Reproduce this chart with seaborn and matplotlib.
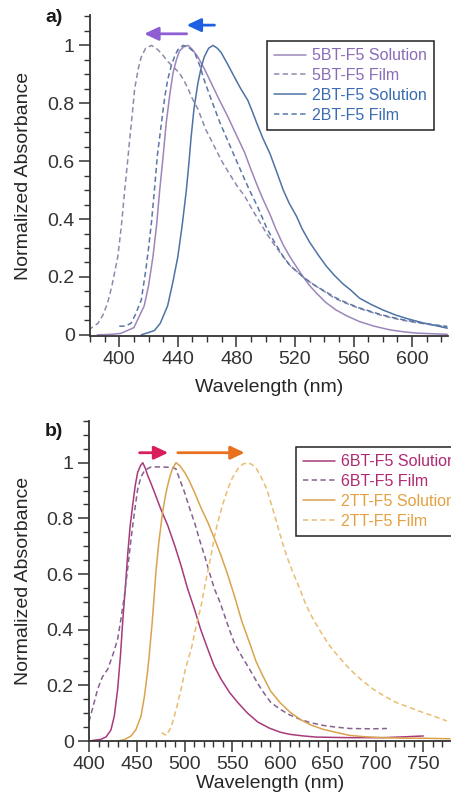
import numpy as np
import pandas as pd
import matplotlib
matplotlib.use("Agg")
import matplotlib.pyplot as plt
from matplotlib.ticker import MultipleLocator, FixedLocator, FixedFormatter
import seaborn as sns

# ==========================================
# DATA
# ==========================================
# panel a
bt5_sol_wl = [385, 395, 401, 410, 417, 420, 423, 425.5, 427.6, 430, 432, 434.5, 436.7, 439, 441, 444,
              447, 450, 453.7, 458, 462.8, 468, 474, 480, 485.6, 490, 494.7, 498, 503, 507, 512, 516.5,
              521, 525.6, 530, 534.7, 541, 548, 556, 564, 574, 585, 595, 603, 613, 624]
bt5_sol_abs = [0.0, 0.002, 0.005, 0.025, 0.10, 0.17, 0.27, 0.38, 0.50, 0.62, 0.73, 0.83, 0.905, 0.95, 0.98, 0.995,
               1.0, 0.985, 0.96, 0.92, 0.87, 0.815, 0.755, 0.69, 0.63, 0.57, 0.51, 0.47, 0.415, 0.365, 0.31, 0.27,
               0.235, 0.20, 0.17, 0.144, 0.112, 0.086, 0.064, 0.046, 0.03, 0.017, 0.01, 0.006, 0.004, 0.002]

bt5_film_wl = [379, 385.5, 389, 392, 395, 399, 401.5, 403.7, 405.5, 407, 409, 410.5, 413, 415, 418, 422,
               426.4, 430, 433, 437, 441, 444, 447, 450, 453.7, 459, 465, 470, 476, 481, 485.6, 490, 494.7,
               500.6, 506, 512, 516.5, 521, 525.6, 530, 534.7, 540, 546, 551, 557.5, 564, 571, 578, 584.8,
               594, 603, 613, 624]
bt5_film_abs = [0.017, 0.04, 0.07, 0.11, 0.17, 0.27, 0.38, 0.50, 0.59, 0.67, 0.77, 0.85, 0.92, 0.96, 0.99, 1.0,
                0.985, 0.965, 0.945, 0.925, 0.905, 0.88, 0.85, 0.815, 0.78, 0.71, 0.65, 0.60, 0.55, 0.51, 0.48,
                0.44, 0.40, 0.35, 0.31, 0.27, 0.24, 0.22, 0.20, 0.183, 0.167, 0.15, 0.13, 0.117, 0.104, 0.091,
                0.08, 0.069, 0.06, 0.05, 0.042, 0.035, 0.028]

bt2_sol_wl = [415, 420, 424, 428, 433, 436.5, 440, 443, 445.8, 447.5, 449, 451, 453.7, 456, 458, 461, 464,
              467, 469.6, 474, 478.7, 483, 487.8, 491, 494, 498, 503, 507, 512, 516, 521, 525, 530, 536,
              541.6, 547, 553, 558, 564, 572, 580, 589, 598, 607, 617, 624]
bt2_sol_abs = [0.0, 0.008, 0.015, 0.04, 0.10, 0.18, 0.27, 0.38, 0.50, 0.59, 0.68, 0.78, 0.87, 0.925, 0.96, 0.99, 1.0,
               0.99, 0.975, 0.935, 0.89, 0.85, 0.81, 0.77, 0.73, 0.68, 0.625, 0.57, 0.50, 0.455, 0.41, 0.365, 0.32,
               0.275, 0.236, 0.205, 0.175, 0.155, 0.127, 0.105, 0.086, 0.068, 0.054, 0.042, 0.031, 0.023]

bt2_film_wl = [400, 404, 408, 411, 415, 418, 420, 422, 424, 426, 428.5, 431, 433, 435.5, 438, 440, 443.5,
               447, 451.5, 455, 458, 463, 469, 475, 481, 488, 494.7, 500.6, 506, 512, 516.5, 521, 525.6, 530,
               534.7, 540, 546, 551, 557.5, 564, 571, 578, 584.8, 594, 603, 613, 624]
bt2_film_abs = [0.03, 0.03, 0.04, 0.07, 0.12, 0.22, 0.30, 0.39, 0.50, 0.62, 0.72, 0.82, 0.88, 0.93, 0.965, 0.985, 1.0,
                0.995, 0.975, 0.93, 0.88, 0.81, 0.73, 0.66, 0.59, 0.51, 0.44, 0.37, 0.32, 0.27, 0.24, 0.22, 0.20,
                0.183, 0.167, 0.152, 0.133, 0.12, 0.106, 0.093, 0.082, 0.071, 0.062, 0.052, 0.044, 0.036, 0.029]

# panel b
bt6_sol_wl = [400, 412.6, 418, 423, 426.5, 430, 433, 435.3, 438, 440.5, 443, 445.8, 448.5, 451, 454, 456.3,
              459, 461.5, 465, 468.5, 475, 482.5, 490, 496.4, 503, 510.4, 517, 524.4, 531, 538.3, 547, 555.8,
              566, 576.8, 589, 600, 610, 625, 638, 655, 673, 690, 708, 730, 750]
bt6_sol_abs = [0.0, 0.006, 0.015, 0.04, 0.09, 0.186, 0.31, 0.43, 0.55, 0.67, 0.77, 0.85, 0.92, 0.966, 0.99, 1.0,
               0.98, 0.954, 0.925, 0.894, 0.835, 0.774, 0.70, 0.63, 0.55, 0.474, 0.40, 0.33, 0.27, 0.222, 0.175,
               0.138, 0.10, 0.068, 0.046, 0.032, 0.024, 0.018, 0.014, 0.013, 0.012, 0.012, 0.012, 0.015, 0.018]

bt6_film_wl = [400, 404, 409, 414, 419.6, 425, 430, 433.5, 437, 440.5, 444, 447.5, 451, 454.5, 458, 462, 465,
               472, 482.5, 488, 491, 495, 500, 505, 510.4, 516, 521, 526, 531.4, 537, 542, 547, 552, 559, 566,
               572, 577, 582, 590, 600, 610, 620.8, 632, 645, 658, 673, 690, 700, 712]
bt6_film_abs = [0.07, 0.12, 0.186, 0.23, 0.258, 0.31, 0.366, 0.44, 0.52, 0.62, 0.726, 0.82, 0.906, 0.95, 0.97, 0.98,
                0.985, 0.985, 0.984, 0.982, 0.978, 0.94, 0.894, 0.84, 0.786, 0.72, 0.666, 0.606, 0.546, 0.50, 0.45,
                0.40, 0.354, 0.31, 0.27, 0.235, 0.205, 0.178, 0.14, 0.114, 0.094, 0.078, 0.066, 0.056, 0.05, 0.045,
                0.044, 0.044, 0.045]

tt2_sol_wl = [430, 437, 444, 449, 454.5, 458, 461, 463, 466, 468, 470, 473, 477, 480.5, 484, 487.5, 491, 495,
              500, 505, 510.4, 517, 524.4, 531, 538.3, 545, 552.4, 560, 568.4, 575, 582, 590, 600, 610, 620.8,
              632, 645, 660, 673, 690, 708, 730, 750, 778]
tt2_sol_abs = [0.0, 0.005, 0.018, 0.04, 0.09, 0.16, 0.24, 0.306, 0.42, 0.51, 0.606, 0.71, 0.822, 0.89, 0.942, 0.98,
               1.0, 0.99, 0.966, 0.935, 0.894, 0.84, 0.786, 0.73, 0.666, 0.60, 0.52, 0.43, 0.35, 0.285, 0.234, 0.18,
               0.138, 0.105, 0.078, 0.058, 0.042, 0.03, 0.02, 0.015, 0.012, 0.01, 0.01, 0.008]

tt2_film_wl = [476, 481, 486, 491, 496.4, 501, 507, 512, 517.4, 522, 527.8, 531, 534.8, 540, 545.3, 550, 555.8,
               561, 566.3, 571, 575.4, 580, 586, 591, 596.4, 601, 606.8, 613, 620.8, 627, 634.7, 643, 652, 662,
               673, 685, 697.6, 710, 722, 736, 750, 762, 774.5]
tt2_film_abs = [0.03, 0.02, 0.05, 0.11, 0.186, 0.26, 0.33, 0.41, 0.486, 0.57, 0.666, 0.73, 0.786, 0.85, 0.906, 0.945,
                0.978, 0.995, 1.0, 0.993, 0.978, 0.95, 0.906, 0.85, 0.786, 0.73, 0.666, 0.61, 0.546, 0.49, 0.438,
                0.39, 0.342, 0.30, 0.258, 0.22, 0.186, 0.16, 0.138, 0.12, 0.102, 0.088, 0.072]

# shift arrows (start nm, end nm)
arrows_a = [(446, 417), (465, 446)]
arrows_b = [(453, 483), (493, 563)]

# ==========================================
# STYLE
# ==========================================
sns.set_style("ticks")
plt.rcParams['font.family'] = ['Liberation Sans', 'DejaVu Sans']
plt.rcParams['axes.edgecolor'] = '#333333'
plt.rcParams['xtick.color'] = '#333333'
plt.rcParams['ytick.color'] = '#333333'
plt.rcParams['text.color'] = '#1a1a1a'

DASH = (0, (3.5, 2.2))
LW = 1.1

series_a = [
    ("5BT-F5 Solution", bt5_sol_wl, bt5_sol_abs, '#9c86bb', '-', '#8a6cb6'),
    ("5BT-F5 Film", bt5_film_wl, bt5_film_abs, '#8f8aac', DASH, '#8a6cb6'),
    ("2BT-F5 Solution", bt2_sol_wl, bt2_sol_abs, '#4d73a6', '-', '#3b6cb2'),
    ("2BT-F5 Film", bt2_film_wl, bt2_film_abs, '#5b76a6', DASH, '#3b6cb2'),
]
series_b = [
    ("6BT-F5 Solution", bt6_sol_wl, bt6_sol_abs, '#a83a7c', '-', '#b02a72'),
    ("6BT-F5 Film", bt6_film_wl, bt6_film_abs, '#86608e', DASH, '#b02a72'),
    ("2TT-F5 Solution", tt2_sol_wl, tt2_sol_abs, '#d9a34e', '-', '#e3a142'),
    ("2TT-F5 Film", tt2_film_wl, tt2_film_abs, '#e9bd70', DASH, '#e3a142'),
]

W, H = 451, 798
fig = plt.figure(figsize=(W / 100, H / 100), dpi=100)


def px_rect(left, top, right, bottom):
    return [left / W, 1 - bottom / H, (right - left) / W, (bottom - top) / H]


def draw_panel(ax, series, xlim, ylim, xmajor, arrows, arrow_y, arrow_colors, legend_anchor):
    for label, wl, ab, color, ls, _ in series:
        df = pd.DataFrame({"wl": wl, "abs": ab})
        sns.lineplot(data=df, x="wl", y="abs", ax=ax, color=color, linestyle=ls,
                     linewidth=LW, label=label, legend=False)
    ax.set_xlim(*xlim)
    ax.set_ylim(*ylim)
    ax.xaxis.set_major_locator(MultipleLocator(xmajor))
    ax.xaxis.set_minor_locator(MultipleLocator(10))
    yt = [0, 0.2, 0.4, 0.6, 0.8, 1.0]
    ax.yaxis.set_major_locator(FixedLocator(yt))
    ax.yaxis.set_major_formatter(FixedFormatter(["0", "0.2", "0.4", "0.6", "0.8", "1"]))
    ax.yaxis.set_minor_locator(MultipleLocator(0.05))
    ax.tick_params(which='major', direction='out', length=8, width=1.1, labelsize=14, pad=3)
    ax.tick_params(which='minor', direction='out', length=4, width=1.0)
    sns.despine(ax=ax)
    for sp in ax.spines.values():
        sp.set_linewidth(1.3)
    ax.set_xlabel("Wavelength (nm)", fontsize=14)
    ax.set_ylabel("Normalized Absorbance", fontsize=14)

    for (x0, x1), c, yy in zip(arrows, arrow_colors, arrow_y):
        ax.annotate('', xy=(x1, yy), xytext=(x0, yy),
                    arrowprops=dict(arrowstyle='-|>,head_length=0.85,head_width=0.4',
                                    color=c, lw=2.0, shrinkA=0, shrinkB=0, mutation_scale=10),
                    annotation_clip=False)

    leg = ax.legend(loc='upper left', bbox_to_anchor=legend_anchor, bbox_transform=fig.transFigure,
                    fontsize=11.5, frameon=True, fancybox=False, framealpha=1, edgecolor='#222222',
                    handlelength=2.0, handletextpad=0.35, labelspacing=0.3, borderpad=0.45,
                    borderaxespad=0)
    leg.get_frame().set_linewidth(1.1)
    for txt, s in zip(leg.get_texts(), series):
        txt.set_color(s[5])
    return ax


# panel a
ax_a = fig.add_axes(px_rect(90, 15, 448, 336))
draw_panel(ax_a, series_a, (380, 624.5), (-0.004, 1.105), 40, arrows_a, [1.04, 1.07],
           ['#8e5ed2', '#1f5fe3'], (267 / W, 1 - 41 / H))
ax_a.yaxis.set_label_coords((23.5 - 90) / 358, 0.5)
ax_a.yaxis.label.set_va('center')
ax_a.xaxis.set_label_coords(0.5, (336 - 387) / 321)
ax_a.xaxis.label.set_va('center')

# panel b
ax_b = fig.add_axes(px_rect(89, 421, 451, 741))
draw_panel(ax_b, series_b, (400, 779), (0, 1.15), 50, arrows_b, [1.036, 1.036],
           ['#d81e5b', '#e8701f'], (296 / W, 1 - 447 / H))
ax_b.yaxis.set_label_coords((23.5 - 89) / 362, 0.5)
ax_b.yaxis.label.set_va('center')
ax_b.xaxis.set_label_coords(0.5, (741 - 783) / 320)
ax_b.xaxis.label.set_va('center')

fig.text(45 / W, 1 - 18 / H, "a)", fontsize=14, fontweight='bold', va='center', ha='left')
fig.text(45 / W, 1 - 431 / H, "b)", fontsize=14, fontweight='bold', va='center', ha='left')

fig.savefig("out.png", dpi=100)
